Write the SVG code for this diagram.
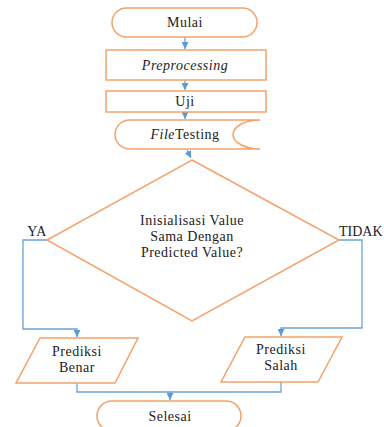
<svg xmlns="http://www.w3.org/2000/svg" width="384" height="427" viewBox="0 0 384 427">
<style>
.s{fill:#fff;stroke:#F4A26A;stroke-width:1.5}
.c{fill:none;stroke:#6AA3DA;stroke-width:1.3}
.t{font-family:"Liberation Serif","Times New Roman","DejaVu Serif",serif;font-size:14px;fill:#222;text-anchor:middle;letter-spacing:0.5px}
</style>
<defs>
<marker id="a" viewBox="0 0 10 10" refX="10" refY="5" markerWidth="7" markerHeight="7" markerUnits="userSpaceOnUse" orient="auto">
<path d="M0,0 L10,5 L0,10 z" fill="#5B9BD5"/>
</marker>
</defs>
<rect width="384" height="427" fill="#fff"/>
<g id="connectors">
<path class="c" d="M185,37 V49" marker-end="url(#a)"/>
<path class="c" d="M185,80 V90" marker-end="url(#a)"/>
<path class="c" d="M185,112 V119" marker-end="url(#a)"/>
<path class="c" d="M187,150 L191,158" marker-end="url(#a)"/>
<path class="c" d="M47,240 H23 V329 H77 V337" marker-end="url(#a)"/>
<path class="c" d="M339,240 H362 V328 H281 V336" marker-end="url(#a)"/>
<path class="c" d="M77,383 V392 H281 V382"/>
<path class="c" d="M170,392 V400" marker-end="url(#a)"/>
</g>
<g id="mulai">
<rect class="s" x="112" y="8" width="145" height="29" rx="14.5"/>
<text class="t" x="185" y="27">Mulai</text>
</g>
<g id="preprocessing">
<rect class="s" x="106" y="50" width="160" height="30"/>
<text class="t" x="185" y="70" font-style="italic">Preprocessing</text>
</g>
<g id="uji">
<rect class="s" x="106" y="91" width="160" height="21"/>
<text class="t" x="185" y="106">Uji</text>
</g>
<g id="filetesting">
<path class="s" d="M130,120 H260 A27,14.5 0 0 0 260,149 H130 A15,14.5 0 0 1 130,120 Z"/>
<text class="t" x="185" y="139"><tspan font-style="italic">File</tspan>Testing</text>
</g>
<g id="decision">
<polygon class="s" points="192,160 339,240 192,321 47,240"/>
<text class="t" x="192" y="225">Inisialisasi Value</text>
<text class="t" x="192" y="241">Sama Dengan</text>
<text class="t" x="192" y="257">Predicted Value?</text>
</g>
<text class="t" x="37" y="236">YA</text>
<text class="t" x="339" y="236" style="text-anchor:start;letter-spacing:0">TIDAK</text>
<g id="benar">
<polygon class="s" points="40,338 138,338 115,383 16,383"/>
<text class="t" x="77" y="356">Prediksi</text>
<text class="t" x="77" y="372">Benar</text>
</g>
<g id="salah">
<polygon class="s" points="245,337 342,337 318,382 221,382"/>
<text class="t" x="281" y="354">Prediksi</text>
<text class="t" x="281" y="370">Salah</text>
</g>
<g id="selesai">
<rect class="s" x="97" y="401" width="144" height="30" rx="15"/>
<text class="t" x="170" y="421">Selesai</text>
</g>
</svg>
